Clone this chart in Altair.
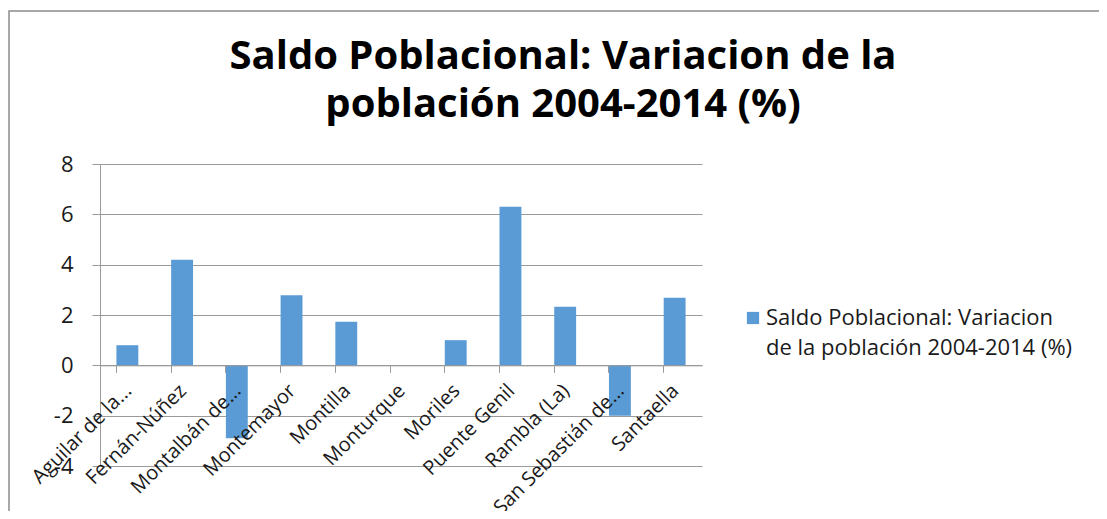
import altair as alt
import pandas as pd

municipios = ["Aguilar de la...", "Fernán-Núñez", "Montalbán de...", "Montemayor", "Montilla",
              "Monturque", "Moriles", "Puente Genil", "Rambla (La)", "San Sebastián de...", "Santaella"]
valores = [0.8, 4.2, -2.9, 2.78, 1.73, 0.0, 1.0, 6.3, 2.33, -2.0, 2.69]
serie = "Saldo Poblacional: Variacion de la población 2004-2014 (%)"
y_ticks = [-4, -2, 0, 2, 4, 6, 8]

df = pd.DataFrame({"municipio": municipios, "valor": valores, "serie": serie})

FONT = "Open Sans"
W, H = 602, 302
GRID = "#9a9a9a"

bars = alt.Chart(df).mark_bar(color="#5B9BD5").encode(
    x=alt.X("municipio:N", sort=municipios,
            scale=alt.Scale(paddingInner=0.6, paddingOuter=0.3),
            axis=alt.Axis(title=None, labelAngle=-45, labelAlign="right", labelBaseline="middle",
                          labelFontSize=20, labelColor="#1a1a1a", labelFont=FONT,
                          labelPadding=15, labelOffset=1, labelLimit=300,
                          offset=-100.67, domainColor=GRID, tickColor=GRID,
                          tickSize=7, bandPosition=0, zindex=1, grid=False)),
    y=alt.Y("valor:Q", scale=alt.Scale(domain=[-4, 8], nice=False),
            axis=alt.Axis(title=None, values=y_ticks, labelFontSize=22, labelFont=FONT,
                          labelColor="#1a1a1a", labelPadding=19, tickSize=8,
                          labelExpr="datum.value + ''",
                          tickColor=GRID, domainColor=GRID,
                          gridColor=GRID, gridWidth=1)),
    fill=alt.Fill("serie:N", scale=alt.Scale(range=["#5B9BD5"]),
                  legend=alt.Legend(title=None, orient="none", legendX=642, legendY=143,
                                    symbolType="square", symbolSize=150, symbolStrokeWidth=0,
                                    labelFontSize=22, labelFont=FONT, labelColor="#1a1a1a",
                                    labelLimit=400, labelOffset=2,
                                    labelExpr="['Saldo Poblacional: Variacion', 'de la población 2004-2014 (%)']")),
)

frame_df = pd.DataFrame({"k": [0]})
frame = alt.Chart(frame_df).mark_rect(fill=None, stroke="#8c8c8c", strokeWidth=1.5).encode(
    x=alt.value(-91), x2=alt.value(1400), y=alt.value(-153), y2=alt.value(800)
)

chart = alt.layer(frame, bars).properties(
    width=W, height=H,
    title=alt.TitleParams(["Saldo Poblacional: Variacion de la", "población 2004-2014 (%)"],
                          fontSize=40, font=FONT, fontWeight="bold", color="#000000",
                          anchor="middle", dx=162, dy=119, lineHeight=48),
    autosize=alt.AutoSizeParams(type="none"),
    padding={"left": 92, "top": 156, "right": 397, "bottom": 45},
).configure(background="white", style={"guide-label": {"lineHeight": 30}}).configure_view(stroke=None)

chart.save("out.html", embed_options={"renderer": "svg", "actions": False})
